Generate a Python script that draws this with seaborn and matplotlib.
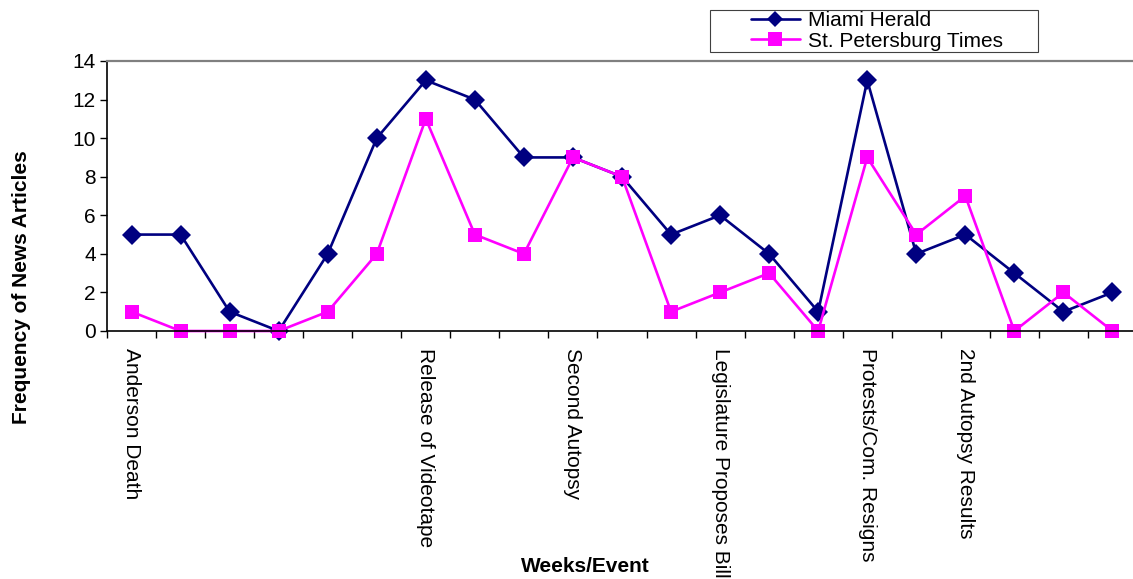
import numpy as np
import pandas as pd
import matplotlib
matplotlib.use("Agg")
import matplotlib.pyplot as plt
from matplotlib.patches import Rectangle
import seaborn as sns

# Datos (21 semanas)
semanas = list(range(21))
miami_herald = [5, 5, 1, 0, 4, 10, 13, 12, 9, 9, 8, 5, 6, 4, 1, 13, 4, 5, 3, 1, 2]
st_pete_times = [1, 0, 0, 0, 1, 4, 11, 5, 4, 9, 8, 1, 2, 3, 0, 9, 5, 7, 0, 2, 0]

eventos_pos = [0, 6, 9, 12, 15, 17]
eventos = ["Anderson Death", "Release of Videotape", "Second Autopsy",
           "Legislature Proposes Bill", "Protests/Com. Resigns", "2nd Autopsy Results"]

series = ["Miami Herald", "St. Petersburg Times"]
colores = {"Miami Herald": "#000080", "St. Petersburg Times": "#FF00FF"}
marcadores = {"Miami Herald": "D", "St. Petersburg Times": "s"}

df = pd.DataFrame({
    "semana": semanas * 2,
    "articulos": miami_herald + st_pete_times,
    "diario": [series[0]] * 21 + [series[1]] * 21,
})

sns.set_style("white")
plt.rcParams["font.family"] = ["Liberation Sans", "DejaVu Sans"]
plt.rcParams.update({"text.color": "black", "xtick.color": "black",
                     "ytick.color": "black", "axes.labelcolor": "black"})

fig = plt.figure(figsize=(11.33, 5.79), dpi=100)
ax = fig.add_axes([107 / 1133, 1 - 331 / 579, 1030 / 1133, 270 / 579])

sns.lineplot(data=df, x="semana", y="articulos", hue="diario", style="diario",
             palette=colores, markers=marcadores, dashes=False,
             markersize=10, linewidth=1.9, markeredgewidth=0,
             ax=ax, legend=False)
for linea in ax.lines:
    linea.set_clip_on(False)

# Ejes
ax.set_xlim(-0.5, 20.5)
ax.set_ylim(0, 14)
ax.set_yticks(range(0, 15, 2))
ax.tick_params(axis="y", labelsize=15, length=5, width=1, direction="out", left=True, pad=3)

ax.set_xticks(eventos_pos)
ax.set_xticklabels(eventos, rotation=270, fontsize=15, va="top", ha="center")
ax.set_xticks(np.arange(-0.5, 21, 1), minor=True)
ax.tick_params(axis="x", which="major", length=0, pad=12)
ax.tick_params(axis="x", which="minor", length=5, width=1, direction="out", bottom=True)

ax.set_xlabel("")
ax.set_ylabel("")

for lado in ["left", "bottom"]:
    ax.spines[lado].set_color("black")
    ax.spines[lado].set_linewidth(1.2)
ax.spines["top"].set_color("#808080")
ax.spines["top"].set_linewidth(1.6)
ax.spines["right"].set_visible(False)

fig.text(22 / 1133, 1 - 287 / 579, "Frequency of News Articles", rotation=90,
         fontsize=15, fontweight="bold", ha="center", va="center")
fig.text(585 / 1133, 1 - 567 / 579, "Weeks/Event", fontsize=15,
         fontweight="bold", ha="center", va="center")

# Leyenda (recuadro dibujado aparte para igualar el ancho original)
fig.patches.append(Rectangle((710 / 1133, 1 - 52 / 579), 328 / 1133, 42 / 579,
                             transform=fig.transFigure, fill=False,
                             edgecolor="#404040", linewidth=0.8))
handles = [plt.Line2D([], [], color=colores[s], marker=marcadores[s],
                      markersize=8 if s == series[0] else 10,
                      linewidth=1.9, markeredgewidth=0) for s in series]
fig.legend(handles, series, loc="center left",
           bbox_to_anchor=(751 / 1133, 1 - 31 / 579), fontsize=15,
           frameon=False, borderpad=0, labelspacing=0.05, handlelength=2.35,
           handletextpad=0.4, borderaxespad=0)

fig.savefig("out.png", dpi=100)
